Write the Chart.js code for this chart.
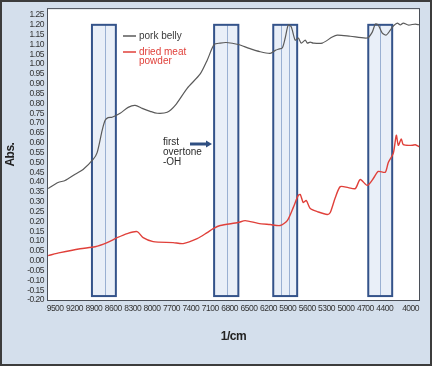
<!DOCTYPE html>
<html>
<head>
<meta charset="utf-8">
<script src="https://cdn.jsdelivr.net/npm/chart.js@4"></script>
<style>
  html, body { margin: 0; padding: 0; background: #d4dfec; }
  #wrap { width: 432px; height: 366px; }
</style>
</head>
<body>
<div id="wrap"><canvas id="nirChart" width="432" height="366"></canvas></div>
<script>
// NIR spectra: pork belly vs dried meat powder

const FONT = "'Liberation Sans', Arial, sans-serif";

// pork belly
const porkWn = [9608, 9454, 9345, 9190, 9067, 8912, 8850, 8772, 8726, 8680, 8618, 8494, 8370, 8262, 8153,
  8029, 7921, 7766, 7642, 7457, 7255, 7147, 7039, 6946, 6853, 6667, 6497, 6327, 6172, 6094, 6048, 5986,
  5940, 5893, 5847, 5785, 5738, 5692, 5630, 5599, 5553, 5506, 5367, 5212, 5135, 4933, 4670, 4593, 4546,
  4500, 4438, 4376, 4314, 4268, 4206, 4159, 4113, 4036, 3927, 3865];
const porkAbs = [0.367, 0.398, 0.408, 0.44, 0.464, 0.515, 0.55, 0.663, 0.714, 0.728, 0.73, 0.75, 0.78, 0.79, 0.775,
  0.76, 0.75, 0.755, 0.79, 0.877, 0.95, 1.02, 1.10, 1.107, 1.11, 1.10, 1.08, 1.063, 1.055, 1.07, 1.076, 1.082,
  1.133, 1.199, 1.19, 1.122, 1.133, 1.107, 1.122, 1.107, 1.112, 1.107, 1.107, 1.138, 1.148, 1.142, 1.133, 1.163, 1.204,
  1.199, 1.158, 1.148, 1.173, 1.194, 1.209, 1.199, 1.209, 1.199, 1.204, 1.20];

// dried meat powder
const powderWn = [9608, 9423, 9113, 8881, 8695, 8540, 8385, 8231, 8138, 7983, 7673, 7519, 7302, 7147, 7054,
  6946, 6667, 6559, 6358, 6172, 6017, 5908, 5816, 5738, 5707, 5661, 5614, 5553, 5444, 5290, 5243, 5166,
  5088, 4964, 4856, 4779, 4670, 4577, 4500, 4392, 4345, 4268, 4221, 4190, 4144, 4113, 3973, 3927, 3865];
const powderAbs = [0.026, 0.041, 0.061, 0.071, 0.092, 0.117, 0.138, 0.148, 0.117, 0.097, 0.092, 0.087, 0.112, 0.143, 0.163,
  0.179, 0.194, 0.204, 0.19, 0.184, 0.179, 0.204, 0.27, 0.332, 0.337, 0.296, 0.306, 0.265, 0.25, 0.235, 0.245, 0.32,
  0.377, 0.372, 0.367, 0.413, 0.383, 0.418, 0.454, 0.45, 0.50, 0.546, 0.638, 0.587, 0.62, 0.59, 0.587, 0.59, 0.58];

// highlighted absorption bands (1/cm)
const bandFrom = [8930, 7040, 6125, 4655];
const bandTo = [8560, 6665, 5755, 4285];
const bandMarks = [[8725], [6840], [6000, 5880], [4480]];
const bandTop = 1.20;
const bandBottom = -0.18;

const xTicks = [9500, 9200, 8900, 8600, 8300, 8000, 7700, 7400, 7100, 6800, 6500, 6200, 5900, 5600, 5300, 5000, 4700, 4400, 4000];
const yTicks = [];
for (let i = -4; i <= 25; i++) yTicks.push(i * 0.05);

const toPoints = (xs, ys) => xs.map((x, i) => ({ x: x, y: ys[i] }));

const framePlugin = {
  id: 'frame',
  beforeDraw(chart) {
    const { ctx, chartArea: a, width, height } = chart;
    ctx.save();
    ctx.fillStyle = '#d4dfec';
    ctx.fillRect(0, 0, width, height);
    ctx.strokeStyle = '#3c3c3c';
    ctx.lineWidth = 2;
    ctx.strokeRect(1, 1, width - 2, height - 2);
    ctx.fillStyle = '#ffffff';
    ctx.fillRect(a.left, a.top, a.right - a.left, a.bottom - a.top);
    ctx.strokeStyle = '#4a4f58';
    ctx.lineWidth = 1;
    ctx.strokeRect(a.left - 0.5, a.top - 0.5, a.right - a.left + 1, a.bottom - a.top + 1);
    ctx.restore();
    // condensed look for the axis labels
    ctx.letterSpacing = '-0.5px';
  },
  beforeDatasetsDraw(chart) {
    const { ctx, scales: { x, y } } = chart;
    ctx.letterSpacing = '0px';
    const top = y.getPixelForValue(bandTop);
    const bottom = y.getPixelForValue(bandBottom);
    ctx.save();
    bandFrom.forEach((from, i) => {
      const l = x.getPixelForValue(from);
      const r = x.getPixelForValue(bandTo[i]);
      ctx.fillStyle = '#e9eff8';
      ctx.fillRect(l, top, r - l, bottom - top);
      ctx.strokeStyle = '#9ab0d2';
      ctx.lineWidth = 1;
      bandMarks[i].forEach(m => {
        const px = Math.round(x.getPixelForValue(m)) + 0.5;
        ctx.beginPath();
        ctx.moveTo(px, top);
        ctx.lineTo(px, bottom);
        ctx.stroke();
      });
      ctx.strokeStyle = '#34538a';
      ctx.lineWidth = 2;
      ctx.strokeRect(l, top, r - l, bottom - top);
    });
    ctx.restore();
  },
  afterDatasetsDraw(chart) {
    const { ctx } = chart;
    ctx.save();
    ctx.font = '10px ' + FONT;
    ctx.textBaseline = 'middle';
    ctx.textAlign = 'left';
    // legend
    ctx.lineWidth = 1.5;
    ctx.strokeStyle = '#5a5a5a';
    ctx.beginPath(); ctx.moveTo(123, 36); ctx.lineTo(136, 36); ctx.stroke();
    ctx.fillStyle = '#3a3a3a';
    ctx.fillText('pork belly', 139, 36);
    ctx.strokeStyle = '#e0403a';
    ctx.beginPath(); ctx.moveTo(123, 52); ctx.lineTo(136, 52); ctx.stroke();
    ctx.fillStyle = '#e0403a';
    ctx.fillText('dried meat', 139, 52);
    ctx.fillText('powder', 139, 61);
    // annotation
    ctx.fillStyle = '#2c2c2c';
    ctx.fillText('first', 163, 142);
    ctx.fillText('overtone', 163, 152);
    ctx.fillText('-OH', 163, 162);
    ctx.strokeStyle = '#2f4f82';
    ctx.fillStyle = '#2f4f82';
    ctx.lineWidth = 3;
    ctx.beginPath(); ctx.moveTo(190, 144); ctx.lineTo(207, 144); ctx.stroke();
    ctx.beginPath(); ctx.moveTo(212, 144); ctx.lineTo(206, 140.5); ctx.lineTo(206, 147.5); ctx.closePath(); ctx.fill();
    ctx.restore();
  }
};

const ctxSpectra = document.getElementById('nirChart').getContext('2d');
const spectraChart = new Chart(ctxSpectra, {
  type: 'line',
  data: {
    datasets: [{
      label: 'pork belly',
      data: toPoints(porkWn, porkAbs),
      borderColor: '#5a5a5a',
      borderWidth: 1.2,
      pointRadius: 0,
      tension: 0.25
    }, {
      label: 'dried meat powder',
      data: toPoints(powderWn, powderAbs),
      borderColor: '#e0403a',
      borderWidth: 1.4,
      pointRadius: 0,
      tension: 0.25
    }]
  },
  options: {
    responsive: false,
    animation: false,
    events: [],
    layout: { padding: { top: 9, right: 13, bottom: 22, left: 3 } },
    plugins: {
      legend: { display: false },
      tooltip: { enabled: false }
    },
    scales: {
      x: {
        type: 'linear',
        reverse: true,
        min: 3870,
        max: 9610,
        afterBuildTicks: s => { s.ticks = xTicks.map(v => ({ value: v })); },
        afterFit: s => { s.height = 44; },
        grid: { display: false, drawTicks: false },
        border: { display: false },
        ticks: {
          padding: 4,
          maxRotation: 0,
          autoSkip: false,
          color: '#333',
          font: { family: FONT, size: 8.5 },
          callback: v => String(v)
        },
        title: {
          display: true,
          text: '1/cm',
          color: '#222',
          padding: 0,
          font: { family: FONT, size: 12, weight: 'bold' }
        }
      },
      y: {
        min: -0.2,
        max: 1.28,
        afterBuildTicks: s => { s.ticks = yTicks.map(v => ({ value: v })); },
        afterFit: s => { s.width = 45; },
        grid: { display: false, drawTicks: false },
        border: { display: false },
        ticks: {
          padding: 4,
          autoSkip: false,
          color: '#333',
          font: { family: FONT, size: 8.5 },
          callback: v => v.toFixed(2)
        },
        title: {
          display: true,
          text: 'Abs.',
          color: '#222',
          padding: 0,
          font: { family: FONT, size: 12, weight: 'bold' }
        }
      }
    }
  },
  plugins: [framePlugin]
});
</script>
</body>
</html>
